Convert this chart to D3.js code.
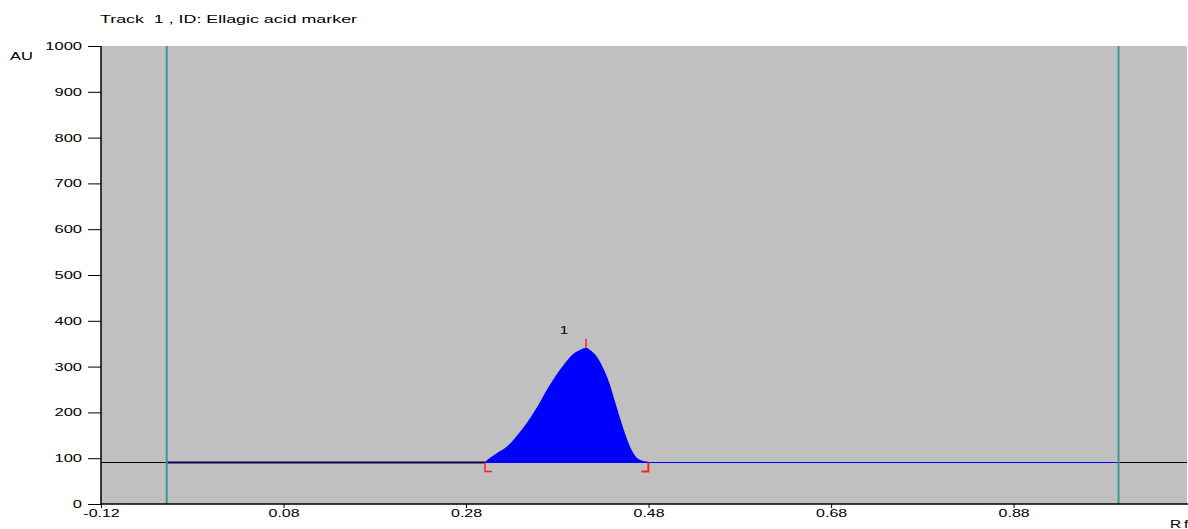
<!DOCTYPE html>
<html>
<head>
<meta charset="utf-8">
<script src="https://cdn.jsdelivr.net/npm/d3@7/dist/d3.min.js"></script>
<style>
  html, body { margin: 0; padding: 0; background: #ffffff; }
  svg { display: block; font-family: "Liberation Sans", Arial, sans-serif; }
</style>
</head>
<body>
<svg id="chart" width="1188" height="529"></svg>
<script>
// ---- data ----
const title = "Track  1 , ID: Ellagic acid marker";
const yAxisLabel = "AU";
const xAxisLabel = "Rf";
const xTicks = [-0.12, 0.08, 0.28, 0.48, 0.68, 0.88];
const yTicks = [0, 100, 200, 300, 400, 500, 600, 700, 800, 900, 1000];
const xDomain = [-0.12, 1.07];
const yDomain = [0, 1000];
const baselineAU = 92;
const trackLimits = [-0.048, 0.995];          // teal front/start lines
const peakRf = [0.3008, 0.3063, 0.3136, 0.3227, 0.3318, 0.3410, 0.3501, 0.3592, 0.3684, 0.3775, 0.3866, 0.3958, 0.4049, 0.4115, 0.4159, 0.4232, 0.4305, 0.4378, 0.4433, 0.4488, 0.4542, 0.4597, 0.4671, 0.4743, 0.4798];
const peakAU = [92, 101, 111, 122, 140, 162, 187, 216, 249, 278, 303, 325, 336, 341, 336, 322, 296, 260, 223, 187, 154, 125, 101, 94, 92];
const peakLabel = "1";
const peakStart = 0.3008, peakMax = 0.4115, peakEnd = 0.4798, peakMaxAU = 341;

(function () {
// ---- layout ----
const svg = d3.select("#chart");
const mLeft = 101, mRight = 1187, mTop = 46, mBottom = 504;
const x = d3.scaleLinear().domain(xDomain).range([mLeft, mRight]);
const y = d3.scaleLinear().domain(yDomain).range([mBottom, mTop]);

// horizontally stretched text, like the original bitmap font
function stretch(sel, f) {
  sel.each(function () {
    const len = this.getComputedTextLength();
    d3.select(this).attr("textLength", len * f).attr("lengthAdjust", "spacingAndGlyphs");
  });
}

// plot background
svg.append("rect").attr("x", mLeft).attr("y", mTop)
  .attr("width", mRight - mLeft).attr("height", mBottom - mTop)
  .attr("fill", "#c0c0c0");

const by = Math.round(y(baselineAU)) + 0.5;

// baseline (black across)
svg.append("line")
  .attr("x1", x(xDomain[0])).attr("x2", x(xDomain[1]))
  .attr("y1", by).attr("y2", by)
  .attr("stroke", "#000").attr("stroke-width", 1);

// blue signal baseline between track limits
svg.append("line")
  .attr("x1", x(trackLimits[0])).attr("x2", x(trackLimits[1]))
  .attr("y1", by).attr("y2", by)
  .attr("stroke", "#0000ff").attr("stroke-width", 1);
// dark overlap before peak
svg.append("line")
  .attr("x1", x(trackLimits[0])).attr("x2", x(peakStart))
  .attr("y1", by).attr("y2", by)
  .attr("stroke", "#000050").attr("stroke-width", 2);

// peak area
const pts = peakRf.map((r, i) => [r, peakAU[i]]);
const area = d3.area()
  .x(d => x(d[0])).y0(by).y1(d => y(d[1]))
  .curve(d3.curveMonotoneX);
svg.append("path").datum(pts).attr("d", area).attr("fill", "#0000ff");

// teal track lines
trackLimits.forEach(v => {
  svg.append("line")
    .attr("x1", x(v)).attr("x2", x(v))
    .attr("y1", mTop).attr("y2", mBottom)
    .attr("stroke", "#379a9a").attr("stroke-width", 2);
});

// red integration markers
svg.append("path")
  .attr("d", `M${x(peakStart)},${by}V${by + 9}H${x(peakStart) + 7}`)
  .attr("fill", "none").attr("stroke", "#ff2020").attr("stroke-width", 1.5);
svg.append("path")
  .attr("d", `M${x(peakEnd)},${by}V${by + 9}H${x(peakEnd) - 7}`)
  .attr("fill", "none").attr("stroke", "#ff2020").attr("stroke-width", 2);
svg.append("line")
  .attr("x1", x(peakMax)).attr("x2", x(peakMax))
  .attr("y1", y(peakMaxAU) - 9).attr("y2", y(peakMaxAU))
  .attr("stroke", "#ff2020").attr("stroke-width", 1.5);
svg.append("text")
  .attr("x", x(peakMax) - 22).attr("y", y(peakMaxAU) - 14)
  .attr("font-size", 11).attr("text-anchor", "middle")
  .attr("fill", "#000").text(peakLabel).call(stretch, 1.4);

// axes
const yAxis = d3.axisLeft(y).tickValues(yTicks).tickSize(13).tickPadding(6).tickFormat(d3.format("d"));
const gy = svg.append("g").attr("transform", `translate(${mLeft},0)`).call(yAxis);
gy.select(".domain").attr("stroke", "#000").attr("stroke-width", 1.5).attr("d", `M0,${mTop}V${mBottom}`);
gy.selectAll("text").attr("font-size", 11).attr("fill", "#000")
  .attr("font-family", "Liberation Sans, Arial, sans-serif").call(stretch, 1.5);

const xAxis = d3.axisBottom(x).tickValues(xTicks).tickSize(4).tickPadding(1)
  .tickFormat(d => d3.format(".2f")(d).replace("−", "-"));
const gx = svg.append("g").attr("transform", `translate(0,${mBottom})`).call(xAxis);
gx.select(".domain").attr("stroke", "#000").attr("stroke-width", 1.5).attr("d", `M${mLeft},0H${1188}`);
gx.selectAll("text").attr("font-size", 11).attr("fill", "#000")
  .attr("font-family", "Liberation Sans, Arial, sans-serif").call(stretch, 1.45);

// labels
svg.append("text").attr("x", 100).attr("y", 23).attr("font-size", 11).attr("fill", "#000")
  .attr("xml:space", "preserve").style("white-space", "pre").text(title)
  .attr("textLength", 257).attr("lengthAdjust", "spacingAndGlyphs");
svg.append("text").attr("x", 10).attr("y", 60).attr("font-size", 11).attr("fill", "#000").text(yAxisLabel)
  .call(stretch, 1.5);
svg.append("text").attr("x", 1170).attr("y", 528).attr("font-size", 11).attr("fill", "#000")
  .attr("letter-spacing", 2).text(xAxisLabel).call(stretch, 1.4);
})();
</script>
</body>
</html>
